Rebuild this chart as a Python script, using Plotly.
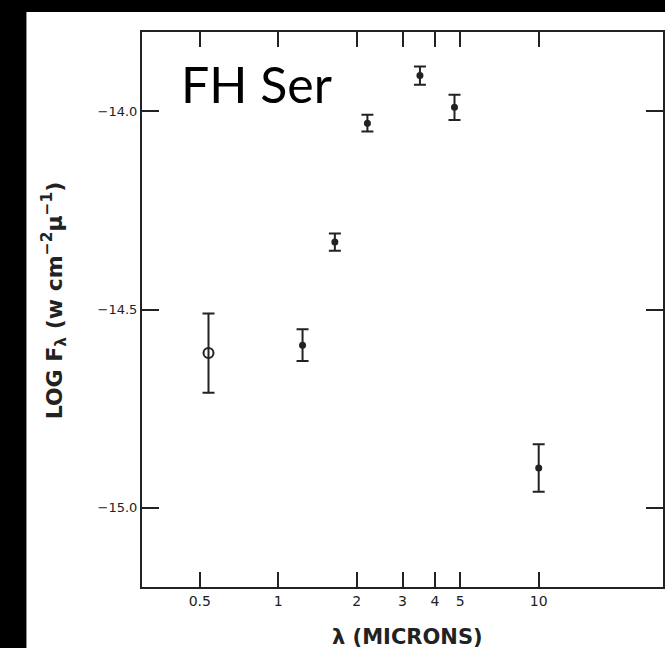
import math
import plotly.graph_objects as go

# FH Ser spectral energy distribution: wavelength (microns) vs log flux
wavelength = [0.54, 1.24, 1.65, 2.2, 3.5, 4.75, 10.0]
log_flux = [-14.61, -14.59, -14.33, -14.03, -13.91, -13.99, -14.90]
log_flux_err = [0.10, 0.04, 0.022, 0.021, 0.023, 0.032, 0.06]

x_ticks = [0.5, 1, 2, 3, 4, 5, 10]
x_tick_text = ["0.5", "1", "2", "3", "4", "5", "10"]
y_ticks = [-15.0, -14.5, -14.0]
y_tick_text = ["\u221215.0", "\u221214.5", "\u221214.0"]

INK = "#222222"
W, H = 665, 648
L, R, T, B = 142, 0, 32, 61
pw, ph = W - L - R, H - T - B


def px_x(p):
    return (p - L) / pw


def px_y(p):
    return (H - B - p) / ph


fig = go.Figure()

# optical point (open symbol)
fig.add_trace(go.Scatter(
    x=wavelength[:1], y=log_flux[:1], mode="markers",
    error_y=dict(type="data", array=log_flux_err[:1], color=INK, thickness=2, width=6),
    marker=dict(symbol="circle-open", size=10, color=INK, line=dict(width=2, color=INK)),
    showlegend=False,
))
# infrared points (filled symbols)
fig.add_trace(go.Scatter(
    x=wavelength[1:], y=log_flux[1:], mode="markers",
    error_y=dict(type="data", array=log_flux_err[1:], color=INK, thickness=2, width=6),
    marker=dict(symbol="circle", size=7, color=INK),
    showlegend=False,
))

fig.update_xaxes(
    type="log", range=[math.log10(0.3), math.log10(30)],
    tickvals=x_ticks, ticktext=x_tick_text,
    ticks="inside", ticklen=15, tickwidth=2, tickcolor=INK,
    showline=True, linecolor=INK, linewidth=2, mirror="allticks",
    showgrid=False, zeroline=False,
    tickfont=dict(family="DejaVu Sans", size=14, color=INK),
)
fig.update_yaxes(
    range=[-15.2, -13.8],
    tickvals=y_ticks, ticktext=y_tick_text,
    ticks="inside", ticklen=17, tickwidth=2, tickcolor=INK,
    showline=True, linecolor=INK, linewidth=2, mirror="allticks",
    showgrid=False, zeroline=False,
    tickfont=dict(family="DejaVu Sans", size=13, color=INK),
)

# white page on a black surround
fig.add_shape(type="rect", xref="paper", yref="paper",
              x0=px_x(26), x1=px_x(W + 5), y0=px_y(H + 5), y1=px_y(12),
              fillcolor="white", line=dict(width=0), layer="below")

fig.add_annotation(
    text="\u03bb (MICRONS)", xref="paper", yref="paper",
    x=px_x(409), y=px_y(637), xanchor="center", yanchor="middle",
    showarrow=False, font=dict(family="DejaVu Sans", size=21, color=INK, weight="bold"),
)
fig.add_annotation(
    text="LOG F<sub>\u03bb</sub> (w cm<sup>\u22122</sup>\u03bc<sup>\u22121</sup>)",
    xref="paper", yref="paper", x=px_x(54), y=px_y(300),
    xanchor="center", yanchor="middle", textangle=-90,
    showarrow=False, font=dict(family="DejaVu Sans", size=22, color=INK, weight="bold"),
)
fig.add_annotation(
    text="FH Ser", xref="paper", yref="paper",
    x=px_x(179), y=px_y(84), xanchor="left", yanchor="middle",
    showarrow=False, font=dict(family="Lato", size=50, color="black"),
)

fig.update_layout(
    width=W, height=H, autosize=False,
    margin=dict(l=L, r=R, t=T, b=B, pad=0),
    paper_bgcolor="black", plot_bgcolor="white",
)

fig.write_html("out.html")
